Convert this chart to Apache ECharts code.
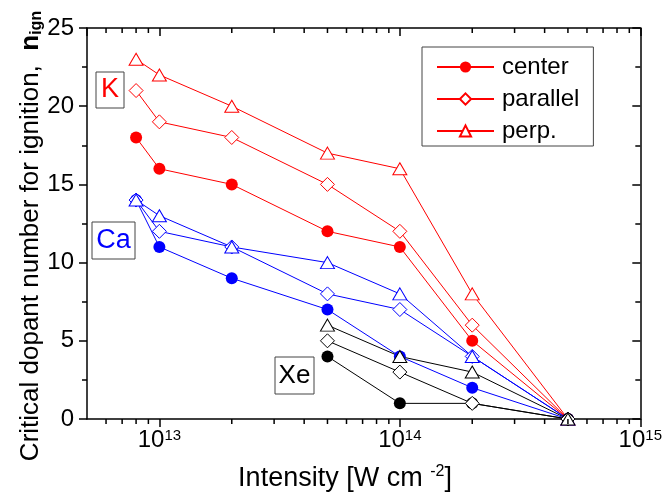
<!DOCTYPE html>
<html>
<head>
<meta charset="utf-8">
<script src="https://cdn.jsdelivr.net/npm/echarts@6/dist/echarts.min.js"></script>
<style>
html,body{margin:0;padding:0;background:#fff;}
#chart{width:665px;height:498px;}
</style>
</head>
<body>
<div id="chart"></div>
<script>
// ---- data ----
const intensities = [8e12, 1e13, 2e13, 5e13, 1e14, 2e14, 5e14];
const K_center   = [18, 16, 15, 12, 11, 5, 0];
const K_parallel = [21, 19, 18, 15, 12, 6, 0];
const K_perp     = [23, 22, 20, 17, 16, 8, 0];
const Ca_center   = [14, 11, 9, 7, 4, 2, 0];
const Ca_parallel = [14, 12, 11, 8, 7, 4, 0];
const Ca_perp     = [14, 13, 11, 10, 8, 4, 0];
const Xe_intensities = [5e13, 1e14, 2e14, 5e14];
const Xe_center   = [4, 1, 1, 0];
const Xe_parallel = [5, 3, 1, 0];
const Xe_perp     = [6, 4, 3, 0];
const legendNames = ['center', 'parallel', 'perp.'];
const xMin = 5e12, xMax = 1e15;
const yMin = 0, yMax = 25;
const xMinorTicks = [6e12, 7e12, 8e12, 9e12,
  2e13, 3e13, 4e13, 5e13, 6e13, 7e13, 8e13, 9e13,
  2e14, 3e14, 4e14, 5e14, 6e14, 7e14, 8e14, 9e14];

const FONT = '"Liberation Sans", Arial, sans-serif';
const RED = '#ff0000', BLUE = '#0000ff', BLACK = '#000000';

function pairs(xs, ys) { return xs.map((x, i) => [x, ys[i]]); }

function mkSeries(name, xs, ys, color, kind) {
  const s = {
    name: name,
    type: 'line',
    data: pairs(xs, ys),
    lineStyle: { color: color, width: 1 },
    animation: false,
    emphasis: { disabled: true },
    clip: false
  };
  if (kind === 'center') {
    s.symbol = 'circle'; s.symbolSize = 12;
    s.itemStyle = { color: color, borderColor: color, borderWidth: 0 };
  } else if (kind === 'parallel') {
    s.symbol = 'diamond'; s.symbolSize = [14, 14];
    s.itemStyle = { color: '#ffffff', borderColor: color, borderWidth: 1 };
  } else {
    s.symbol = 'triangle'; s.symbolSize = [14, 12];
    s.itemStyle = { color: '#ffffff', borderColor: color, borderWidth: 1 };
  }
  return s;
}

const series = [
  mkSeries('center', intensities, K_center, RED, 'center'),
  mkSeries('parallel', intensities, K_parallel, RED, 'parallel'),
  mkSeries('perp.', intensities, K_perp, RED, 'perp'),
  mkSeries('Ca center', intensities, Ca_center, BLUE, 'center'),
  mkSeries('Ca parallel', intensities, Ca_parallel, BLUE, 'parallel'),
  mkSeries('Ca perp.', intensities, Ca_perp, BLUE, 'perp'),
  mkSeries('Xe center', Xe_intensities, Xe_center, BLACK, 'center'),
  mkSeries('Xe parallel', Xe_intensities, Xe_parallel, BLACK, 'parallel'),
  mkSeries('Xe perp.', Xe_intensities, Xe_perp, BLACK, 'perp')
];

// minor ticks on the log x axes (bottom outward, top inward)
series.push({
  type: 'custom',
  name: 'xminor',
  data: xMinorTicks.map(v => [v]),
  clip: false,
  silent: true,
  animation: false,
  z: 5,
  renderItem: function (params, api) {
    const x = api.value(0);
    const pb = api.coord([x, yMin]);
    const pt = api.coord([x, yMax]);
    return {
      type: 'group',
      children: [
        { type: 'line', shape: { x1: pb[0], y1: pb[1], x2: pb[0], y2: pb[1] + 5 }, style: { stroke: '#000', lineWidth: 1.5 } },
        { type: 'line', shape: { x1: pt[0], y1: pt[1], x2: pt[0], y2: pt[1] + 5 }, style: { stroke: '#000', lineWidth: 1.5 } }
      ]
    };
  }
});

function isPow10(v) {
  const l = Math.log10(v);
  return Math.abs(l - Math.round(l)) < 1e-6;
}

const axisLine = { show: true, onZero: false, lineStyle: { color: '#000', width: 1.5 } };

const chart = echarts.init(document.getElementById('chart'), null, { renderer: 'canvas' });
chart.setOption({
  animation: false,
  backgroundColor: '#ffffff',
  textStyle: { fontFamily: FONT },
  grid: { left: 87, right: 23, top: 28, bottom: 79, containLabel: false },
  legend: {
    data: legendNames,
    orient: 'vertical',
    left: 422, top: 47,
    padding: [8, 14, 3, 14],
    borderColor: '#444444', borderWidth: 1,
    backgroundColor: '#ffffff',
    itemWidth: 57, itemHeight: 14, itemGap: 8,
    selectedMode: false,
    textStyle: { fontFamily: FONT, fontSize: 24, color: '#000', lineHeight: 24, padding: [0, 0, 0, 3] }
  },
  xAxis: [{
    type: 'log', logBase: 10, min: xMin, max: xMax,
    position: 'bottom',
    axisLine: axisLine,
    axisTick: { show: true, inside: false, length: 8, lineStyle: { color: '#000', width: 1.5 } },
    splitLine: { show: false },
    axisLabel: {
      margin: 9,
      showMinLabel: false,
      formatter: function (v) {
        if (!isPow10(v)) return '';
        return '{b|10}{s|' + Math.round(Math.log10(v)) + '}';
      },
      rich: {
        b: { fontFamily: FONT, fontSize: 24, color: '#000' },
        s: { fontFamily: FONT, fontSize: 15, color: '#000', verticalAlign: 'top', padding: [0, 0, 10, 0] }
      }
    }
  }, {
    type: 'log', logBase: 10, min: xMin, max: xMax,
    position: 'top',
    axisLine: axisLine,
    axisTick: { show: true, inside: true, length: 8, lineStyle: { color: '#000', width: 1.5 } },
    axisLabel: { show: false },
    splitLine: { show: false }
  }],
  yAxis: [{
    type: 'value', min: yMin, max: yMax, interval: 5,
    position: 'left',
    axisLine: axisLine,
    axisTick: { show: true, inside: false, length: 8, lineStyle: { color: '#000', width: 1.5 } },
    minorTick: { show: true, splitNumber: 2, length: 5, lineStyle: { color: '#000', width: 1.5 } },
    splitLine: { show: false },
    axisLabel: { margin: 13, fontFamily: FONT, fontSize: 24, color: '#000' }
  }, {
    type: 'value', min: yMin, max: yMax, interval: 5,
    position: 'right',
    axisLine: axisLine,
    axisTick: { show: true, inside: true, length: 8, lineStyle: { color: '#000', width: 1.5 } },
    minorTick: { show: true, splitNumber: 2, length: 5, lineStyle: { color: '#000', width: 1.5 } },
    splitLine: { show: false },
    axisLabel: { show: false }
  }],
  graphic: [
    // axis titles
    { type: 'text', x: 345, y: 479, z: 20,
      style: { text: '{t|Intensity [W cm }{s|-2}{t|]}', align: 'center', verticalAlign: 'middle',
        rich: {
          t: { fontFamily: FONT, fontSize: 27, fill: '#000' },
          s: { fontFamily: FONT, fontSize: 16, fill: '#000', padding: [0, 0, 14, 0] }
        } } },
    { type: 'text', x: 31, y: 236, rotation: Math.PI / 2, z: 20,
      style: { text: '{t|Critical dopant number for ignition,  }{n|n}{s|ign}', align: 'center', verticalAlign: 'middle',
        rich: {
          t: { fontFamily: FONT, fontSize: 26, fill: '#000' },
          n: { fontFamily: FONT, fontSize: 26, fontWeight: 'bold', fill: '#000' },
          s: { fontFamily: FONT, fontSize: 16, fontWeight: 'bold', fill: '#000', padding: [12, 0, 0, 0] }
        } } },
    // species labels
    { type: 'rect', shape: { x: 96, y: 72, width: 28, height: 36 }, style: { fill: '#fff', stroke: '#444', lineWidth: 1 }, z: 10 },
    { type: 'text', x: 110, y: 90, style: { text: 'K', fill: RED, font: '27px ' + FONT, align: 'center', verticalAlign: 'middle' }, z: 11 },
    { type: 'rect', shape: { x: 92, y: 222, width: 43, height: 37 }, style: { fill: '#fff', stroke: '#444', lineWidth: 1 }, z: 10 },
    { type: 'text', x: 113.5, y: 241, style: { text: 'Ca', fill: BLUE, font: '27px ' + FONT, align: 'center', verticalAlign: 'middle' }, z: 11 },
    { type: 'rect', shape: { x: 275, y: 357, width: 39, height: 37 }, style: { fill: '#fff', stroke: '#444', lineWidth: 1 }, z: 10 },
    { type: 'text', x: 294.5, y: 376, style: { text: 'Xe', fill: BLACK, font: '26px ' + FONT, align: 'center', verticalAlign: 'middle' }, z: 11 }
  ],
  series: series
});
</script>
</body>
</html>
